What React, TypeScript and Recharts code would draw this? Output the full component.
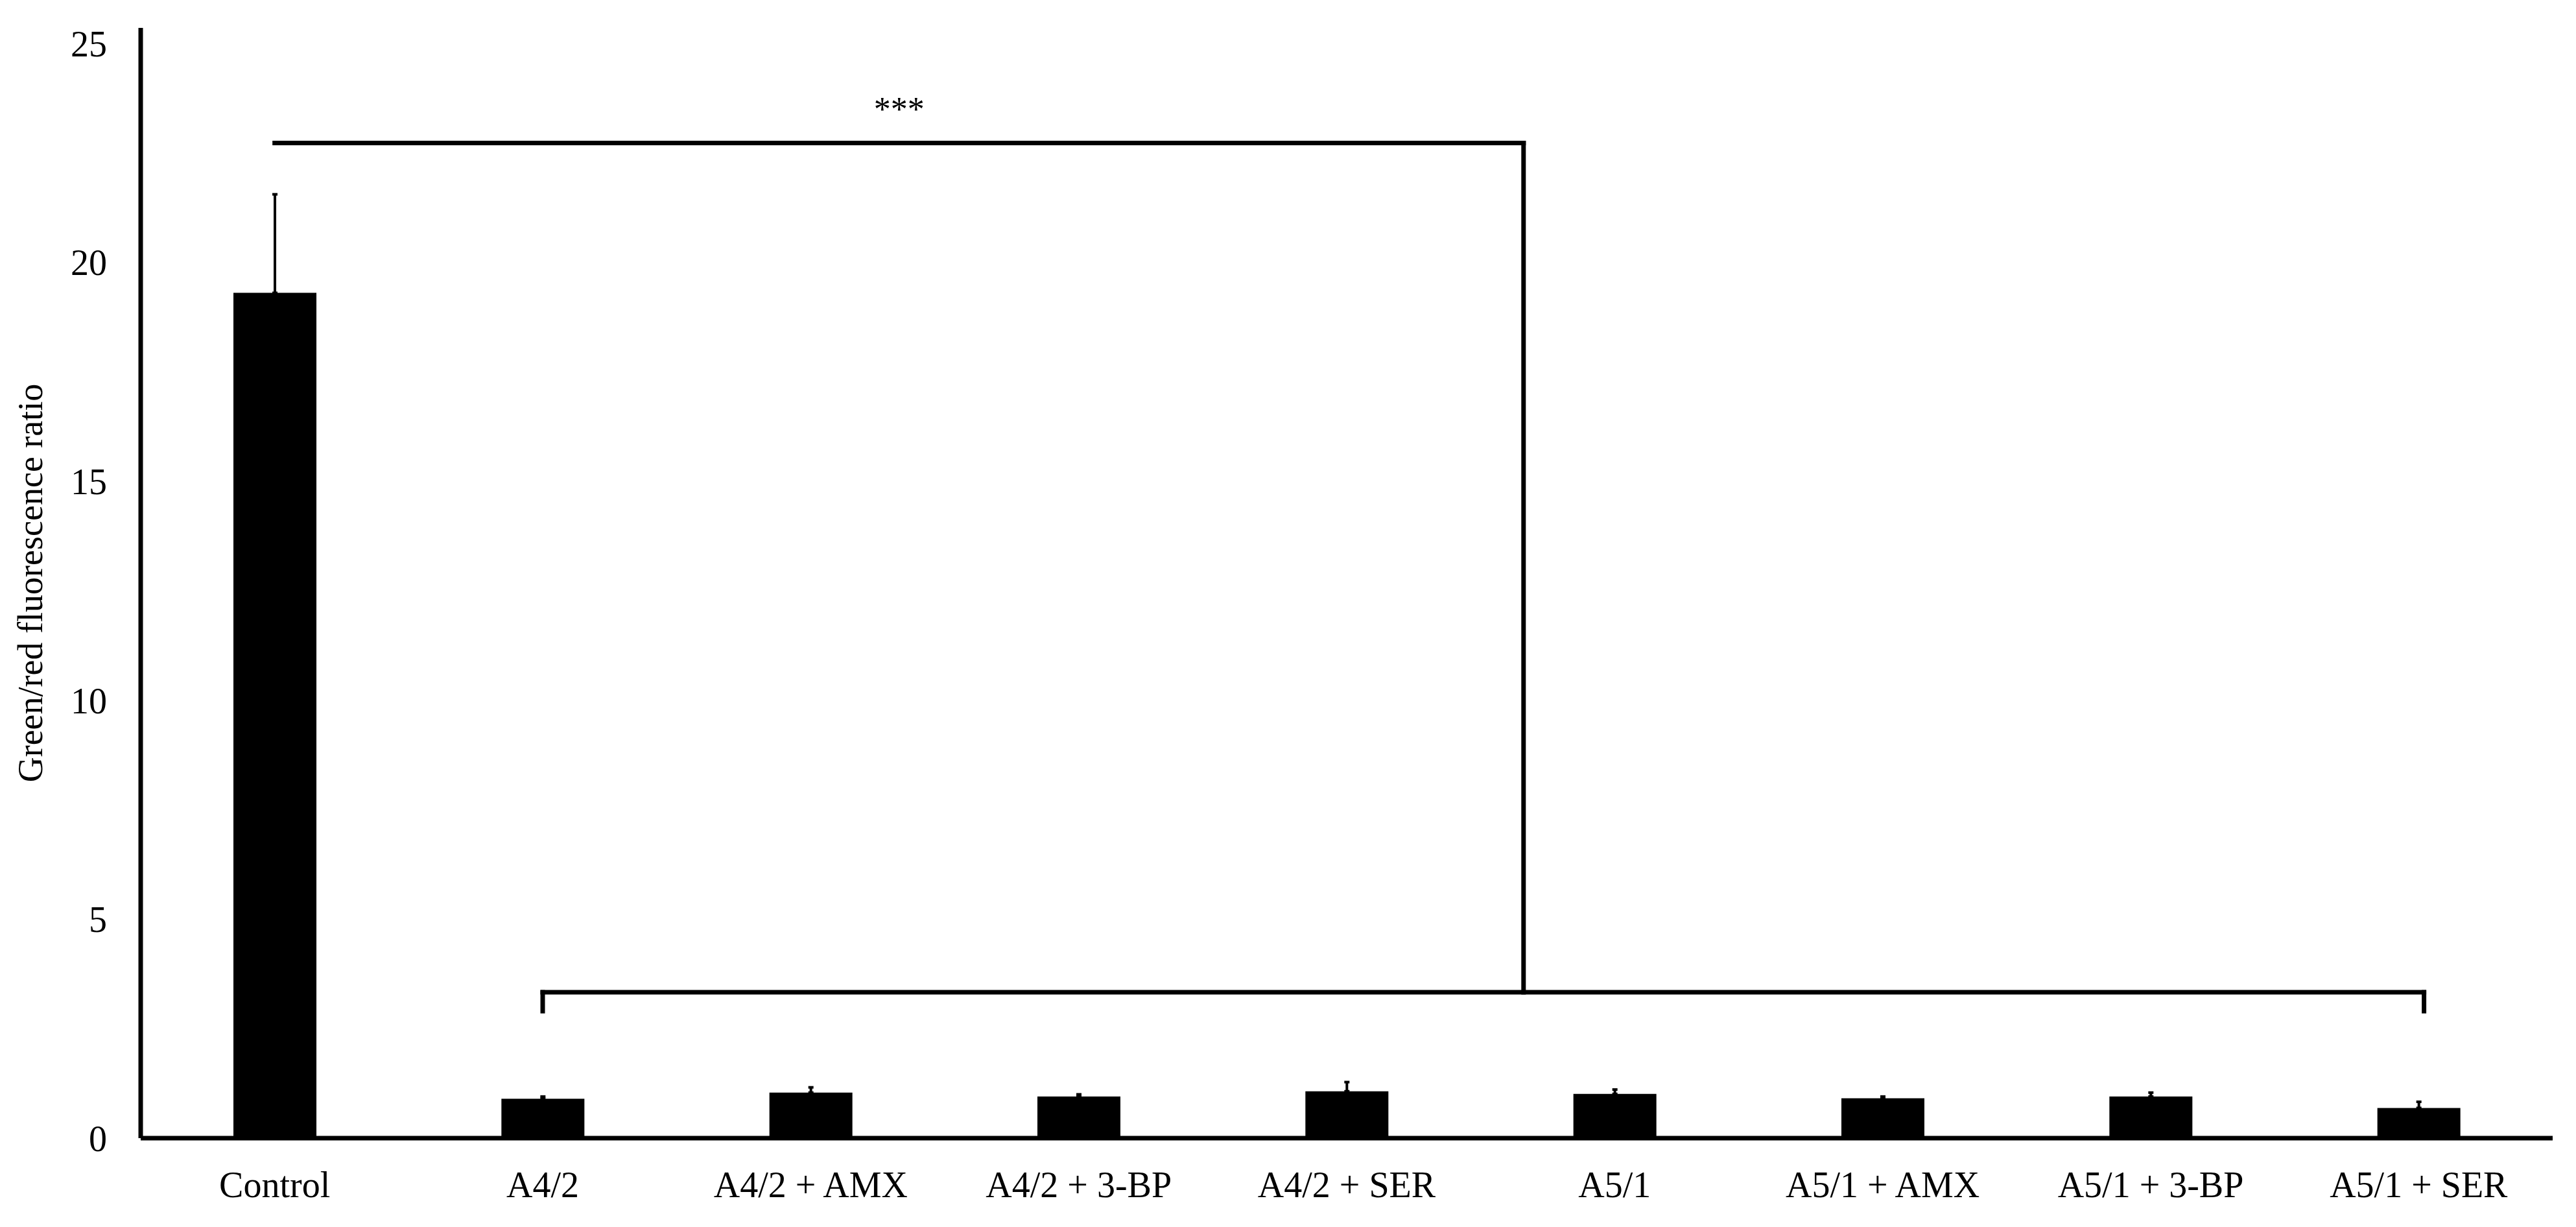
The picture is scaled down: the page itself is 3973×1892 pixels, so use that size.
import React from 'react';
import { BarChart, Bar, XAxis, YAxis, ErrorBar, ReferenceLine, ReferenceDot, Label } from 'recharts';

// groups on the x axis
const categories = [
  'Control',
  'A4/2',
  'A4/2 + AMX',
  'A4/2 + 3-BP',
  'A4/2 + SER',
  'A5/1',
  'A5/1 + AMX',
  'A5/1 + 3-BP',
  'A5/1 + SER',
];

// mean green/red ratio and SD (upper whisker only)
const ratios = [19.3, 0.9, 1.04, 0.95, 1.07, 1.01, 0.91, 0.95, 0.69];
const errors = [2.25, 0.05, 0.12, 0.05, 0.21, 0.1, 0.04, 0.09, 0.14];

const yTicks = [0, 5, 10, 15, 20, 25];

// significance brackets, in data units (x = group index + 0.5)
const brackets = [
  [{ x: 0.5, y: 22.72 }, { x: 5.16, y: 22.72 }],
  [{ x: 5.16, y: 22.72 }, { x: 5.16, y: 3.33 }],
  [{ x: 1.5, y: 3.33 }, { x: 8.52, y: 3.33 }],
  [{ x: 1.5, y: 3.33 }, { x: 1.5, y: 2.9 }],
  [{ x: 8.52, y: 3.33 }, { x: 8.52, y: 2.9 }],
];
const stars = { x: 2.83, y: 23.5, text: '***' };

const data = categories.map((name, i) => ({
  x: i + 0.5,
  name,
  value: ratios[i],
  err: [0, errors[i]],
}));

const FONT = '"Liberation Serif", "Times New Roman", serif';

export default function App() {
  return (
    <div style={{ position: 'absolute', left: 0, top: 0, width: 3973, height: 1892, background: '#fff' }}>
      <BarChart width={3973} height={1892} data={data} margin={{ top: 43, right: 36, bottom: 0, left: 0 }}>
        <XAxis
          dataKey="x"
          type="number"
          domain={[0, 9]}
          ticks={categories.map((_, i) => i + 0.5)}
          tickFormatter={(v: number) => categories[Math.floor(v)]}
          height={137}
          axisLine={{ stroke: '#000', strokeWidth: 7 }}
          tickLine={false}
          tickSize={0}
          tickMargin={51}
          tick={{ fontSize: 56, fill: '#000', fontFamily: FONT }}
          interval={0}
        />
        <YAxis
          type="number"
          domain={[0, 25.35]}
          ticks={yTicks}
          width={217}
          axisLine={{ stroke: '#000', strokeWidth: 7 }}
          tickLine={false}
          tickSize={0}
          tickMargin={52}
          tick={{ fontSize: 56, fill: '#000', fontFamily: FONT }}
        >
          <Label
            value="Green/red fluorescence ratio"
            angle={-90}
            position="insideLeft"
            offset={46}
            style={{ textAnchor: 'middle', fontSize: 54, fill: '#000', fontFamily: FONT }}
          />
        </YAxis>
        <Bar dataKey="value" fill="#000" barSize={128} isAnimationActive={false}>
          <ErrorBar dataKey="err" direction="y" width={4} stroke="#000" strokeWidth={4} />
        </Bar>
        {brackets.map((seg, i) => (
          <ReferenceLine key={i} segment={seg} stroke="#000" strokeWidth={7} strokeLinecap="square" />
        ))}
        <ReferenceDot
          x={stars.x}
          y={stars.y}
          r={0}
          stroke="none"
          fill="none"
          label={{ value: stars.text, position: 'center', fontSize: 52, fill: '#000', fontFamily: FONT }}
        />
      </BarChart>
    </div>
  );
}
